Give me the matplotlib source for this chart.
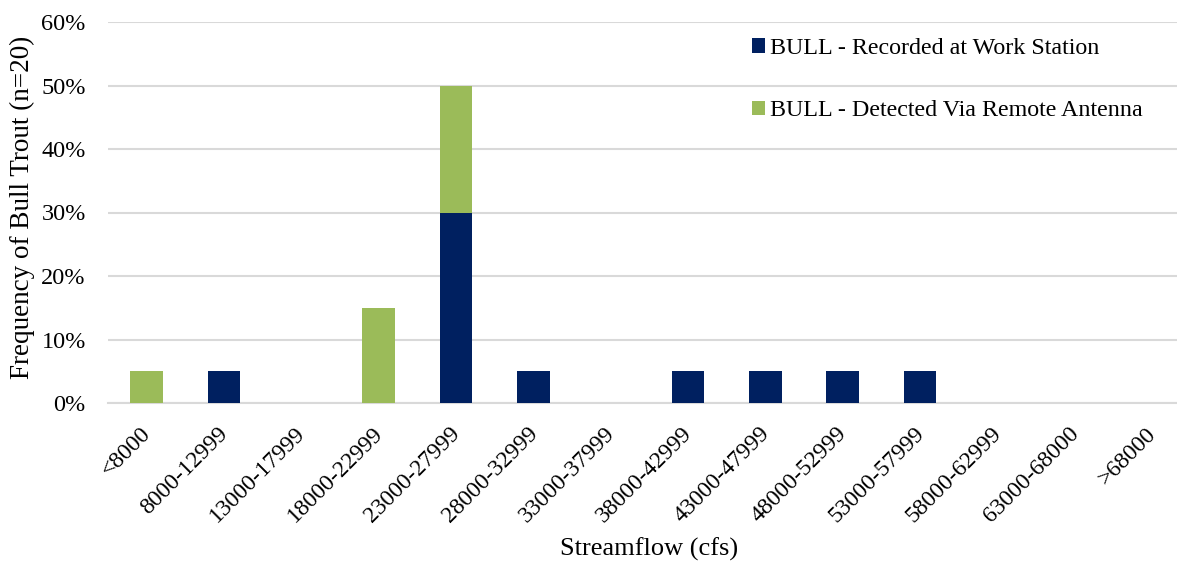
import matplotlib.pyplot as plt
import matplotlib.transforms as mtransforms
from matplotlib.ticker import PercentFormatter

# Streamflow bins and share of tagged bull trout per bin (%)
bins = ['<8000', '8000-12999', '13000-17999', '18000-22999', '23000-27999',
        '28000-32999', '33000-37999', '38000-42999', '43000-47999',
        '48000-52999', '53000-57999', '58000-62999', '63000-68000', '>68000']
recorded = [0, 5, 0, 0, 30, 5, 0, 5, 5, 5, 5, 0, 0, 0]
remote = [5, 0, 0, 15, 20, 0, 0, 0, 0, 0, 0, 0, 0, 0]

navy = '#002060'
green = '#9BBB59'
grid_c = '#D9D9D9'

plt.rcParams['font.family'] = ['Liberation Serif', 'DejaVu Serif']

W, H = 1177, 563
fig = plt.figure(figsize=(W / 100, H / 100), dpi=100)
ax = fig.add_axes([108 / W, (H - 403) / H, (W - 108) / W, (403 - 22) / H])

x = list(range(len(bins)))
ax.bar(x, recorded, width=0.42, color=navy, label='BULL - Recorded at Work Station', zorder=3)
ax.bar(x, remote, width=0.42, bottom=recorded, color=green,
       label='BULL - Detected Via Remote Antenna', zorder=3)

ax.set_xlim(-0.5, (W - 147) / 77.3)
ax.set_ylim(0, 60)
ax.set_yticks(range(0, 61, 10))
ax.yaxis.set_major_formatter(PercentFormatter(decimals=0))
ax.grid(axis='y', color=grid_c, linewidth=1.5, zorder=0)
ax.set_axisbelow(True)

for side in ['top', 'right', 'left']:
    ax.spines[side].set_visible(False)
ax.spines['bottom'].set_color(grid_c)
ax.spines['bottom'].set_linewidth(1.5)
ax.tick_params(length=0)
ax.tick_params(axis='y', labelsize=17.5, pad=16)

ax.set_xticks(x)
ax.set_xticklabels(bins, rotation=45, ha='right', va='center',
                   rotation_mode='anchor', fontsize=17)
ax.tick_params(axis='x', pad=20)
shift = mtransforms.ScaledTranslation(1 / 100, 0, fig.dpi_scale_trans)
for lbl in ax.get_xticklabels():
    lbl.set_transform(lbl.get_transform() + shift)

ax.set_ylabel('Frequency of Bull Trout (n=20)', fontsize=19.5)
ax.set_xlabel('Streamflow (cfs)', fontsize=19)
ax.yaxis.set_label_coords(22 / W, (H - 207) / H, transform=fig.transFigure)
ax.xaxis.set_label_coords((560 + 738) / 2 / W, (H - 549) / H, transform=fig.transFigure)
ax.xaxis.label.set_va('center')
ax.yaxis.label.set_va('center')

ax.legend(loc='upper left', bbox_to_anchor=(740 / W, (H - 26) / H),
          bbox_transform=fig.transFigure, frameon=False, fontsize=17.3,
          handlelength=0.55, handleheight=0.55, handletextpad=0.2,
          labelspacing=1.72, borderpad=0)

fig.savefig('out.png', dpi=100)
